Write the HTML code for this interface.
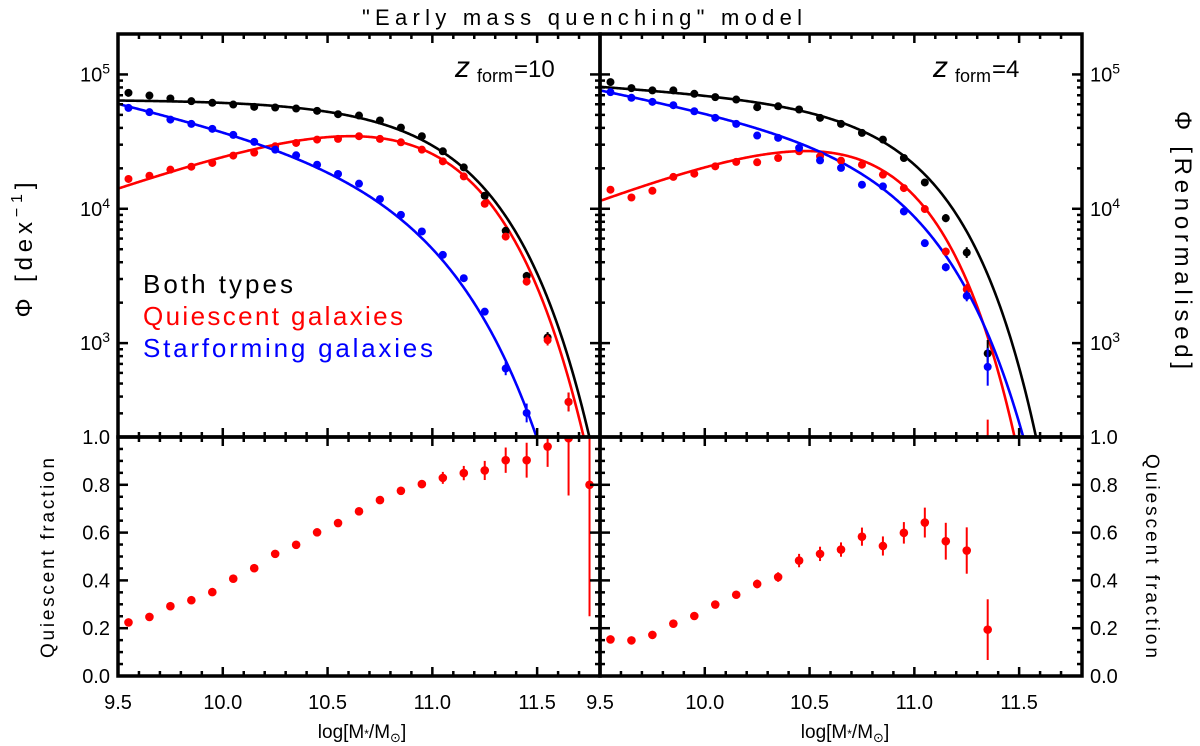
<!DOCTYPE html>
<html><head><meta charset="utf-8">
<style>
html,body{margin:0;padding:0;background:#fff;}
svg{display:block;font-family:"Liberation Sans","DejaVu Sans",sans-serif;}
</style></head>
<body>
<svg id="chart" width="1200" height="746" viewBox="0 0 1200 746" xmlns="http://www.w3.org/2000/svg">
<text x="362" y="25" font-size="22" textLength="440" lengthAdjust="spacing">"Early mass quenching" model</text>
<text transform="translate(32,250) rotate(-90)" font-size="24" text-anchor="middle" textLength="135" lengthAdjust="spacing">Φ  [dex<tspan dy="-10" font-size="16">−1</tspan><tspan dy="10">]</tspan></text>
<text transform="translate(1175,240) rotate(90)" font-size="24" text-anchor="middle" textLength="258" lengthAdjust="spacing">Φ  [Renormalised]</text>
<text transform="translate(54,558) rotate(-90)" font-size="19" text-anchor="middle" textLength="200" lengthAdjust="spacing">Quiescent fraction</text>
<text transform="translate(1146,556) rotate(90)" font-size="19" text-anchor="middle" textLength="204" lengthAdjust="spacing">Quiescent fraction</text>
<g><text x="455" y="77" font-size="30" font-style="italic">z</text><text x="477" y="82" font-size="18">form</text><text x="514" y="77" font-size="24">=10</text></g>
<g><text x="933" y="77" font-size="30" font-style="italic">z</text><text x="955" y="82" font-size="18">form</text><text x="992" y="77" font-size="24">=4</text></g>
<text x="143" y="293" font-size="26" fill="#000" textLength="150" lengthAdjust="spacing">Both  types</text>
<text x="143" y="325" font-size="26" fill="#ff0000" textLength="260" lengthAdjust="spacing">Quiescent  galaxies</text>
<text x="143" y="357" font-size="26" fill="#0000ff" textLength="290" lengthAdjust="spacing">Starforming  galaxies</text>
<text x="362" y="738" font-size="19" text-anchor="middle">log[M<tspan font-size="12">*</tspan>/M<tspan font-size="13" dy="4">⊙</tspan><tspan dy="-4">]</tspan></text>
<text x="845" y="738" font-size="19" text-anchor="middle">log[M<tspan font-size="12">*</tspan>/M<tspan font-size="13" dy="4">⊙</tspan><tspan dy="-4">]</tspan></text>
</svg>
<script>
// ---- data ----
const massLeftTop = [9.55,9.65,9.75,9.85,9.95,10.05,10.15,10.25,10.35,10.45,10.55,10.65,10.75,10.85,10.95,11.05,11.15,11.25,11.35,11.45,11.55,11.65];
const bothLeft = [4.863,4.843,4.821,4.801,4.789,4.776,4.759,4.754,4.746,4.729,4.704,4.694,4.657,4.604,4.540,4.428,4.308,4.097,3.836,3.500,3.042,2.562];
const bothLeftErr = [0,0,0,0,0,0,0,0,0,0,0,0,0,0,0,0,0,0.01,0.02,0.03,0.04,0.07];
const quiLeft = [4.222,4.246,4.291,4.313,4.341,4.396,4.418,4.465,4.490,4.515,4.520,4.540,4.520,4.495,4.440,4.353,4.241,4.037,3.793,3.458,3.022,2.562];
const quiLeftErr = [0,0,0,0,0,0,0,0,0,0,0,0,0,0,0,0,0,0.01,0.02,0.03,0.04,0.07];
const sfLeft = [4.751,4.719,4.664,4.632,4.595,4.550,4.498,4.440,4.398,4.328,4.259,4.187,4.072,3.955,3.831,3.657,3.483,3.234,2.811,2.480];
const sfLeftErr = [0,0,0,0,0,0,0,0,0,0,0,0,0,0,0,0,0.01,0.02,0.05,0.07];
const massRightTop = [9.55,9.65,9.75,9.85,9.95,10.05,10.15,10.25,10.35,10.45,10.55,10.65,10.75,10.85,10.95,11.05,11.15,11.25,11.35];
const bothRight = [4.943,4.898,4.881,4.881,4.856,4.831,4.813,4.756,4.763,4.739,4.677,4.632,4.565,4.515,4.378,4.196,3.930,3.674,2.923];
const bothRightErr = [0,0,0,0,0,0,0,0,0,0,0,0,0,0,0,0.01,0.03,0.04,0.1];
const quiRight = [4.142,4.084,4.134,4.237,4.261,4.316,4.349,4.346,4.378,4.428,4.390,4.358,4.328,4.254,4.154,3.998,3.681,3.401,2.15];
const quiRightErr = [0,0,0,0,0,0,0,0,0,0,0,0,0,0,0,0.01,0.03,0.04,0.28];
const sfRight = [4.868,4.826,4.796,4.771,4.726,4.677,4.632,4.545,4.528,4.453,4.360,4.304,4.179,4.167,3.980,3.744,3.565,3.351,2.823];
const sfRightErr = [0,0,0,0,0,0,0,0,0,0,0,0,0,0,0,0.02,0.03,0.04,0.14];
// fitted curve parameters: [logA, slope, logMstar, beta]
const fitBothLeft = [4.812,0,11.09,1.156];
const fitQuiLeft = [4.922,0.55,10.87,1];
const fitSfLeft = [4.316,-0.35,10.88,1];
const fitBothRight = [4.763,-0.1,11.0,1.28];
const fitQuiRight = [4.81,0.6,10.72,1.1];
const fitSfRight = [4.457,-0.3,10.946,1.15];
const massLeftQf = [9.55,9.65,9.75,9.85,9.95,10.05,10.15,10.25,10.35,10.45,10.55,10.65,10.75,10.85,10.95,11.05,11.15,11.25,11.35,11.45,11.55,11.65,11.75];
const qfLeft = [0.224,0.247,0.292,0.317,0.351,0.407,0.451,0.511,0.549,0.601,0.640,0.689,0.736,0.775,0.803,0.829,0.849,0.860,0.903,0.903,0.960,0.995,0.80];
const qfLeftErr = [0.005,0.005,0.006,0.006,0.007,0.008,0.009,0.01,0.01,0.01,0.01,0.012,0.013,0.015,0.017,0.025,0.03,0.04,0.053,0.073,0.085,0.24,0.55];
const massRightQf = [9.55,9.65,9.75,9.85,9.95,10.05,10.15,10.25,10.35,10.45,10.55,10.65,10.75,10.85,10.95,11.05,11.15,11.25,11.35];
const qfRight = [0.153,0.149,0.172,0.219,0.251,0.299,0.340,0.385,0.414,0.483,0.511,0.529,0.583,0.544,0.599,0.642,0.564,0.525,0.194];
const qfRightErr = [0.008,0.008,0.01,0.01,0.012,0.013,0.015,0.018,0.02,0.028,0.03,0.03,0.038,0.04,0.045,0.0625,0.077,0.097,0.127];
const xTickLabels = ["9.5","10.0","10.5","11.0","11.5"];
const logTickLabels = ["2","3","4","5"];
const qfTickLabels = ["0.0","0.2","0.4","0.6","0.8","1.0"];

// ---- layout ----
const NS = "http://www.w3.org/2000/svg";
const svg = document.getElementById('chart');
const X0 = 9.5, X1 = 11.8;
const panels = [{l:118,r:600},{l:600,r:1082}];
const TOP = 34, MID = 437, BOT = 676;
const LOG0 = Math.log10(200), LOG1 = Math.log10(2e5);
function xs(p, v){ return panels[p].l + (v - X0) / (X1 - X0) * (panels[p].r - panels[p].l); }
function ysLog(v){ return MID - (v - LOG0) / (LOG1 - LOG0) * (MID - TOP); }
function ysQf(v){ return BOT - v * (BOT - MID); }
function el(tag, attrs, parent){
  const e = document.createElementNS(NS, tag);
  for (const k in attrs) e.setAttribute(k, attrs[k]);
  (parent || svg).appendChild(e); return e;
}
const defs = el('defs', {});
panels.forEach((p,i)=>{
  const c1 = el('clipPath',{id:'ct'+i},defs); el('rect',{x:p.l,y:TOP,width:p.r-p.l,height:MID-TOP},c1);
  const c2 = el('clipPath',{id:'cb'+i},defs); el('rect',{x:p.l,y:MID,width:p.r-p.l,height:BOT-MID},c2);
});

function model(par, x){ const u = x - par[2]; return par[0] + par[1]*u - Math.pow(10, par[3]*u)/Math.LN10; }
function drawCurve(p, par, color, name){
  const g = el('g',{'clip-path':'url(#ct'+p+')'});
  let d = '';
  for (let k=0;k<=460;k++){ const x = X0 + (X1-X0)*k/460; const y = model(par,x); d += (k?'L':'M') + xs(p,x).toFixed(2) + ',' + ysLog(Math.max(y,LOG0-1)).toFixed(2); }
  const path = el('path',{d:d,fill:'none',stroke:color,'stroke-width':2.6},g);
  
  
}
function drawPoints(p, xsArr, vals, errs, color, name, top){
  const g = el('g',{'clip-path':'url(#'+(top?'ct':'cb')+p+')'});
  
  
  const ys = top ? ysLog : ysQf;
  xsArr.forEach((m,i)=>{
    const cx = xs(p,m), v = vals[i], e = errs[i];
    if (e > 0){
      const ln = el('line',{x1:cx,x2:cx,y1:ys(v-e),y2:ys(v+e),stroke:color,'stroke-width':2},g);
      
      
    }
    const c = el('circle',{cx:cx,cy:ys(v),r:top?4:4.3,fill:color},g);
    
    
  });
}
drawCurve(0, fitBothLeft, '#000', 'fit-both-left');
drawCurve(0, fitQuiLeft, '#ff0000', 'fit-quiescent-left');
drawCurve(0, fitSfLeft, '#0000ff', 'fit-starforming-left');
drawCurve(1, fitBothRight, '#000', 'fit-both-right');
drawCurve(1, fitQuiRight, '#ff0000', 'fit-quiescent-right');
drawCurve(1, fitSfRight, '#0000ff', 'fit-starforming-right');
drawPoints(0, massLeftTop, bothLeft, bothLeftErr, '#000', 'both-left', true);
drawPoints(0, massLeftTop, quiLeft, quiLeftErr, '#ff0000', 'quiescent-left', true);
drawPoints(0, massLeftTop.slice(0,sfLeft.length), sfLeft, sfLeftErr, '#0000ff', 'starforming-left', true);
drawPoints(1, massRightTop, bothRight, bothRightErr, '#000', 'both-right', true);
drawPoints(1, massRightTop, quiRight, quiRightErr, '#ff0000', 'quiescent-right', true);
drawPoints(1, massRightTop, sfRight, sfRightErr, '#0000ff', 'starforming-right', true);
drawPoints(0, massLeftQf, qfLeft, qfLeftErr, '#ff0000', 'qf-left', false);
drawPoints(1, massRightQf, qfRight, qfRightErr, '#ff0000', 'qf-right', false);

// ---- axes ----
const ax = el('g',{stroke:'#000','stroke-width':2.5,fill:'none'});


function tick(x1,y1,x2,y2,w){ el('line',{x1:x1,y1:y1,x2:x2,y2:y2,'stroke-width':w||2.5},ax); }
panels.forEach((p,pi)=>{
  [[TOP,MID],[MID,BOT]].forEach(([t,b])=>{
    el('rect',{x:p.l,y:t,width:p.r-p.l,height:b-t,'stroke-width':3.5},ax);
    for (let k=0;k<=23;k++){
      const v = X0 + k*0.1; const x = xs(pi,v); const major = (k%5===0); const L = major?9:5;
      tick(x,b,x,b-L); tick(x,t,x,t+L);
    }
  });
  for (let dec=2; dec<=5; dec++){
    for (let m=1; m<=9; m++){
      const lv = dec + Math.log10(m); if (lv < LOG0-1e-6 || lv > LOG1+1e-6) continue;
      const y = ysLog(lv); const L = m===1?10:5;
      tick(p.l,y,p.l+L,y); tick(p.r,y,p.r-L,y);
    }
  }
  for (let k=0;k<=20;k++){
    const y = ysQf(k*0.05); const L = (k%4===0)?10:5;
    tick(p.l,y,p.l+L,y); tick(p.r,y,p.r-L,y);
  }
  xTickLabels.forEach(s=>{
    const t = el('text',{x:xs(pi,parseFloat(s)),y:709,'font-size':20,'text-anchor':'middle',fill:'#000'});
    t.textContent = s;
    
    
  });
});
logTickLabels.forEach(s=>{
  const d = parseInt(s); if (d < 3) return;
  [[110,'end'],[1090,'start']].forEach(([x,a])=>{
    const t = el('text',{x:x,y:ysLog(d)+7,'font-size':20,'text-anchor':a,fill:'#000'});
    t.textContent = '10';
    const sp = el('tspan',{dy:-8,'font-size':14},t); sp.textContent = s;
    
    
  });
});
qfTickLabels.forEach(s=>{
  [[110,'end'],[1090,'start']].forEach(([x,a])=>{
    const t = el('text',{x:x,y:ysQf(parseFloat(s))+7,'font-size':20,'text-anchor':a,fill:'#000'});
    t.textContent = s;
    
    
  });
});
</script>
</body></html>
